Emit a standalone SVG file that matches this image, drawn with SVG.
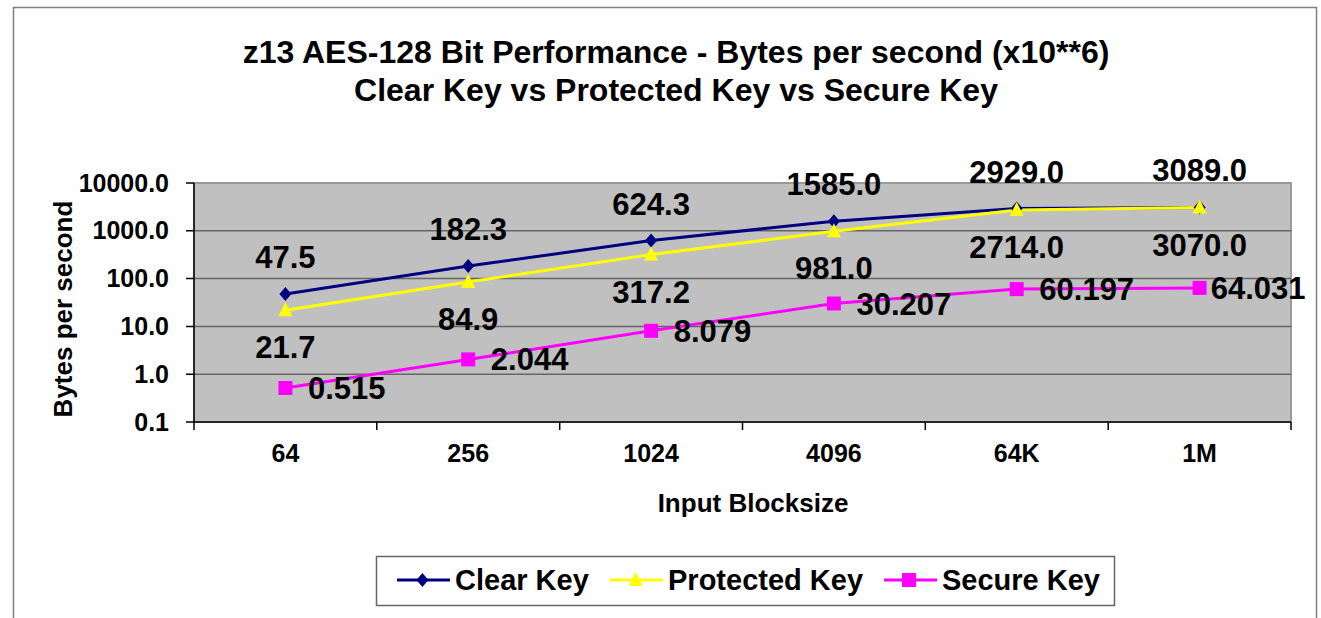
<svg xmlns="http://www.w3.org/2000/svg" width="1321" height="618" viewBox="0 0 1321 618">
<style>
text{font-family:"Liberation Sans",Arial,sans-serif;font-weight:bold;fill:#000}
.title{font-size:32px;text-anchor:middle}
.ytick{font-size:25px;text-anchor:end}
.xtick{font-size:25px;text-anchor:middle}
.axt{font-size:26px;text-anchor:middle}
.dl{font-size:31px;text-anchor:middle}
.ds{font-size:31px;text-anchor:start}
.leg{font-size:29px}
.grid{stroke:#666;stroke-width:1.5}
.axis{stroke:#000;stroke-width:1.5;fill:none}
.clear{stroke:#000080;stroke-width:3;fill:none}
.prot{stroke:#FFFF00;stroke-width:3;fill:none}
.sec{stroke:#FF00FF;stroke-width:3;fill:none}
</style>
<defs>
<path id="dia" d="M0,-7 L6,0 L0,7 L-6,0Z" fill="#000080"/>
<path id="tri" d="M0,-8 L7,6 L-7,6Z" fill="#FFFF00"/>
<path id="sq" d="M-7,-7h14v14h-14z" fill="#FF00FF"/>
</defs>
<rect x="0" y="0" width="1321" height="618" fill="#fff"/>
<path d="M13.5,640 V7.5 H1316.5 V640" fill="none" stroke="#808080" stroke-width="1.5"/>
<g id="title">
<text class="title" x="676" y="63">z13 AES-128 Bit Performance - Bytes per second (x10**6)</text>
<text class="title" x="676" y="101">Clear Key vs Protected Key vs Secure Key</text>
</g>
<g id="plot">
<rect x="194" y="183" width="1097" height="239" fill="#C0C0C0" stroke="#999" stroke-width="2"/>
<line class="grid" x1="194" y1="230.8" x2="1291" y2="230.8"/>
<line class="grid" x1="194" y1="278.6" x2="1291" y2="278.6"/>
<line class="grid" x1="194" y1="326.4" x2="1291" y2="326.4"/>
<line class="grid" x1="194" y1="374.2" x2="1291" y2="374.2"/>
<path class="axis" d="M194,183 V422 H1291 M186,183 H194 M186,230.8 H194 M186,278.6 H194 M186,326.4 H194 M186,374.2 H194 M186,422 H194 M194,422 V430 M376.8,422 V430 M559.7,422 V430 M742.5,422 V430 M925.3,422 V430 M1108.2,422 V430 M1291,422 V430"/>
</g>
<g id="y-axis">
<text class="ytick" x="169" y="191.5">10000.0</text>
<text class="ytick" x="169" y="239.3">1000.0</text>
<text class="ytick" x="169" y="287.1">100.0</text>
<text class="ytick" x="169" y="334.9">10.0</text>
<text class="ytick" x="169" y="382.7">1.0</text>
<text class="ytick" x="169" y="430.5">0.1</text>
<text class="axt" transform="translate(72,309) rotate(-90)">Bytes per second</text>
</g>
<g id="x-axis">
<text class="xtick" x="285.4" y="462">64</text>
<text class="xtick" x="468.2" y="462">256</text>
<text class="xtick" x="651.1" y="462">1024</text>
<text class="xtick" x="833.9" y="462">4096</text>
<text class="xtick" x="1016.7" y="462">64K</text>
<text class="xtick" x="1199.6" y="462">1M</text>
<text class="axt" x="753" y="512">Input Blocksize</text>
</g>
<g id="connectors">
<path class="clear" d="M285.4,294.1 L468.2,266.1 L651.1,240.6 L833.9,221.2 L1016.7,208.5 L1199.6,207.4"/>
<path class="prot" d="M285.4,310.3 L468.2,282 L651.1,254.6 L833.9,231.2 L1016.7,210.1 L1199.6,207.5"/>
<path class="sec" d="M285.4,388 L468.2,359.4 L651.1,330.8 L833.9,303.5 L1016.7,289.1 L1199.6,287.9"/>
</g>
<g id="clear-key">
<use href="#dia" x="285.4" y="294.1"/><use href="#dia" x="468.2" y="266.1"/><use href="#dia" x="651.1" y="240.6"/><use href="#dia" x="833.9" y="221.2"/><use href="#dia" x="1016.7" y="208.5"/><use href="#dia" x="1199.6" y="207.4"/>
</g>
<g id="protected-key">
<use href="#tri" x="285.4" y="310.3"/><use href="#tri" x="468.2" y="282"/><use href="#tri" x="651.1" y="254.6"/><use href="#tri" x="833.9" y="231.2"/><use href="#tri" x="1016.7" y="210.1"/><use href="#tri" x="1199.6" y="207.5"/>
</g>
<g id="secure-key">
<use href="#sq" x="285.4" y="388"/><use href="#sq" x="468.2" y="359.4"/><use href="#sq" x="651.1" y="330.8"/><use href="#sq" x="833.9" y="303.5"/><use href="#sq" x="1016.7" y="289.1"/><use href="#sq" x="1199.6" y="287.9"/>
</g>
<g id="labels">
<text class="dl" x="285.4" y="268.1">47.5</text>
<text class="dl" x="468.2" y="240.1">182.3</text>
<text class="dl" x="651.1" y="214.6">624.3</text>
<text class="dl" x="833.9" y="195.2">1585.0</text>
<text class="dl" x="1016.7" y="182.5">2929.0</text>
<text class="dl" x="1199.6" y="181.4">3089.0</text>
<text class="dl" x="285.4" y="358.3">21.7</text>
<text class="dl" x="468.2" y="330">84.9</text>
<text class="dl" x="651.1" y="302.6">317.2</text>
<text class="dl" x="833.9" y="279.2">981.0</text>
<text class="dl" x="1016.7" y="258.1">2714.0</text>
<text class="dl" x="1199.6" y="255.5">3070.0</text>
<text class="ds" x="308" y="399">0.515</text>
<text class="ds" x="490.8" y="370.4">2.044</text>
<text class="ds" x="673.7" y="341.8">8.079</text>
<text class="ds" x="856.5" y="314.5">30.207</text>
<text class="ds" x="1039.3" y="300.1">60.197</text>
<text class="ds" x="1210.7" y="298.9">64.031</text>
</g>
<g id="legend">
<rect x="376.5" y="556.5" width="738" height="49" fill="#fff" stroke="#666" stroke-width="1.5"/>
<line class="clear" x1="397" y1="580" x2="450" y2="580"/>
<use href="#dia" x="422.4" y="580"/>
<text class="leg" x="455" y="590">Clear Key</text>
<line class="prot" x1="610" y1="580" x2="663" y2="580"/>
<use href="#tri" x="635.6" y="580"/>
<text class="leg" x="668" y="590">Protected Key</text>
<line class="sec" x1="884" y1="580" x2="937" y2="580"/>
<use href="#sq" x="909" y="580"/>
<text class="leg" x="942" y="590">Secure Key</text>
</g>
</svg>
